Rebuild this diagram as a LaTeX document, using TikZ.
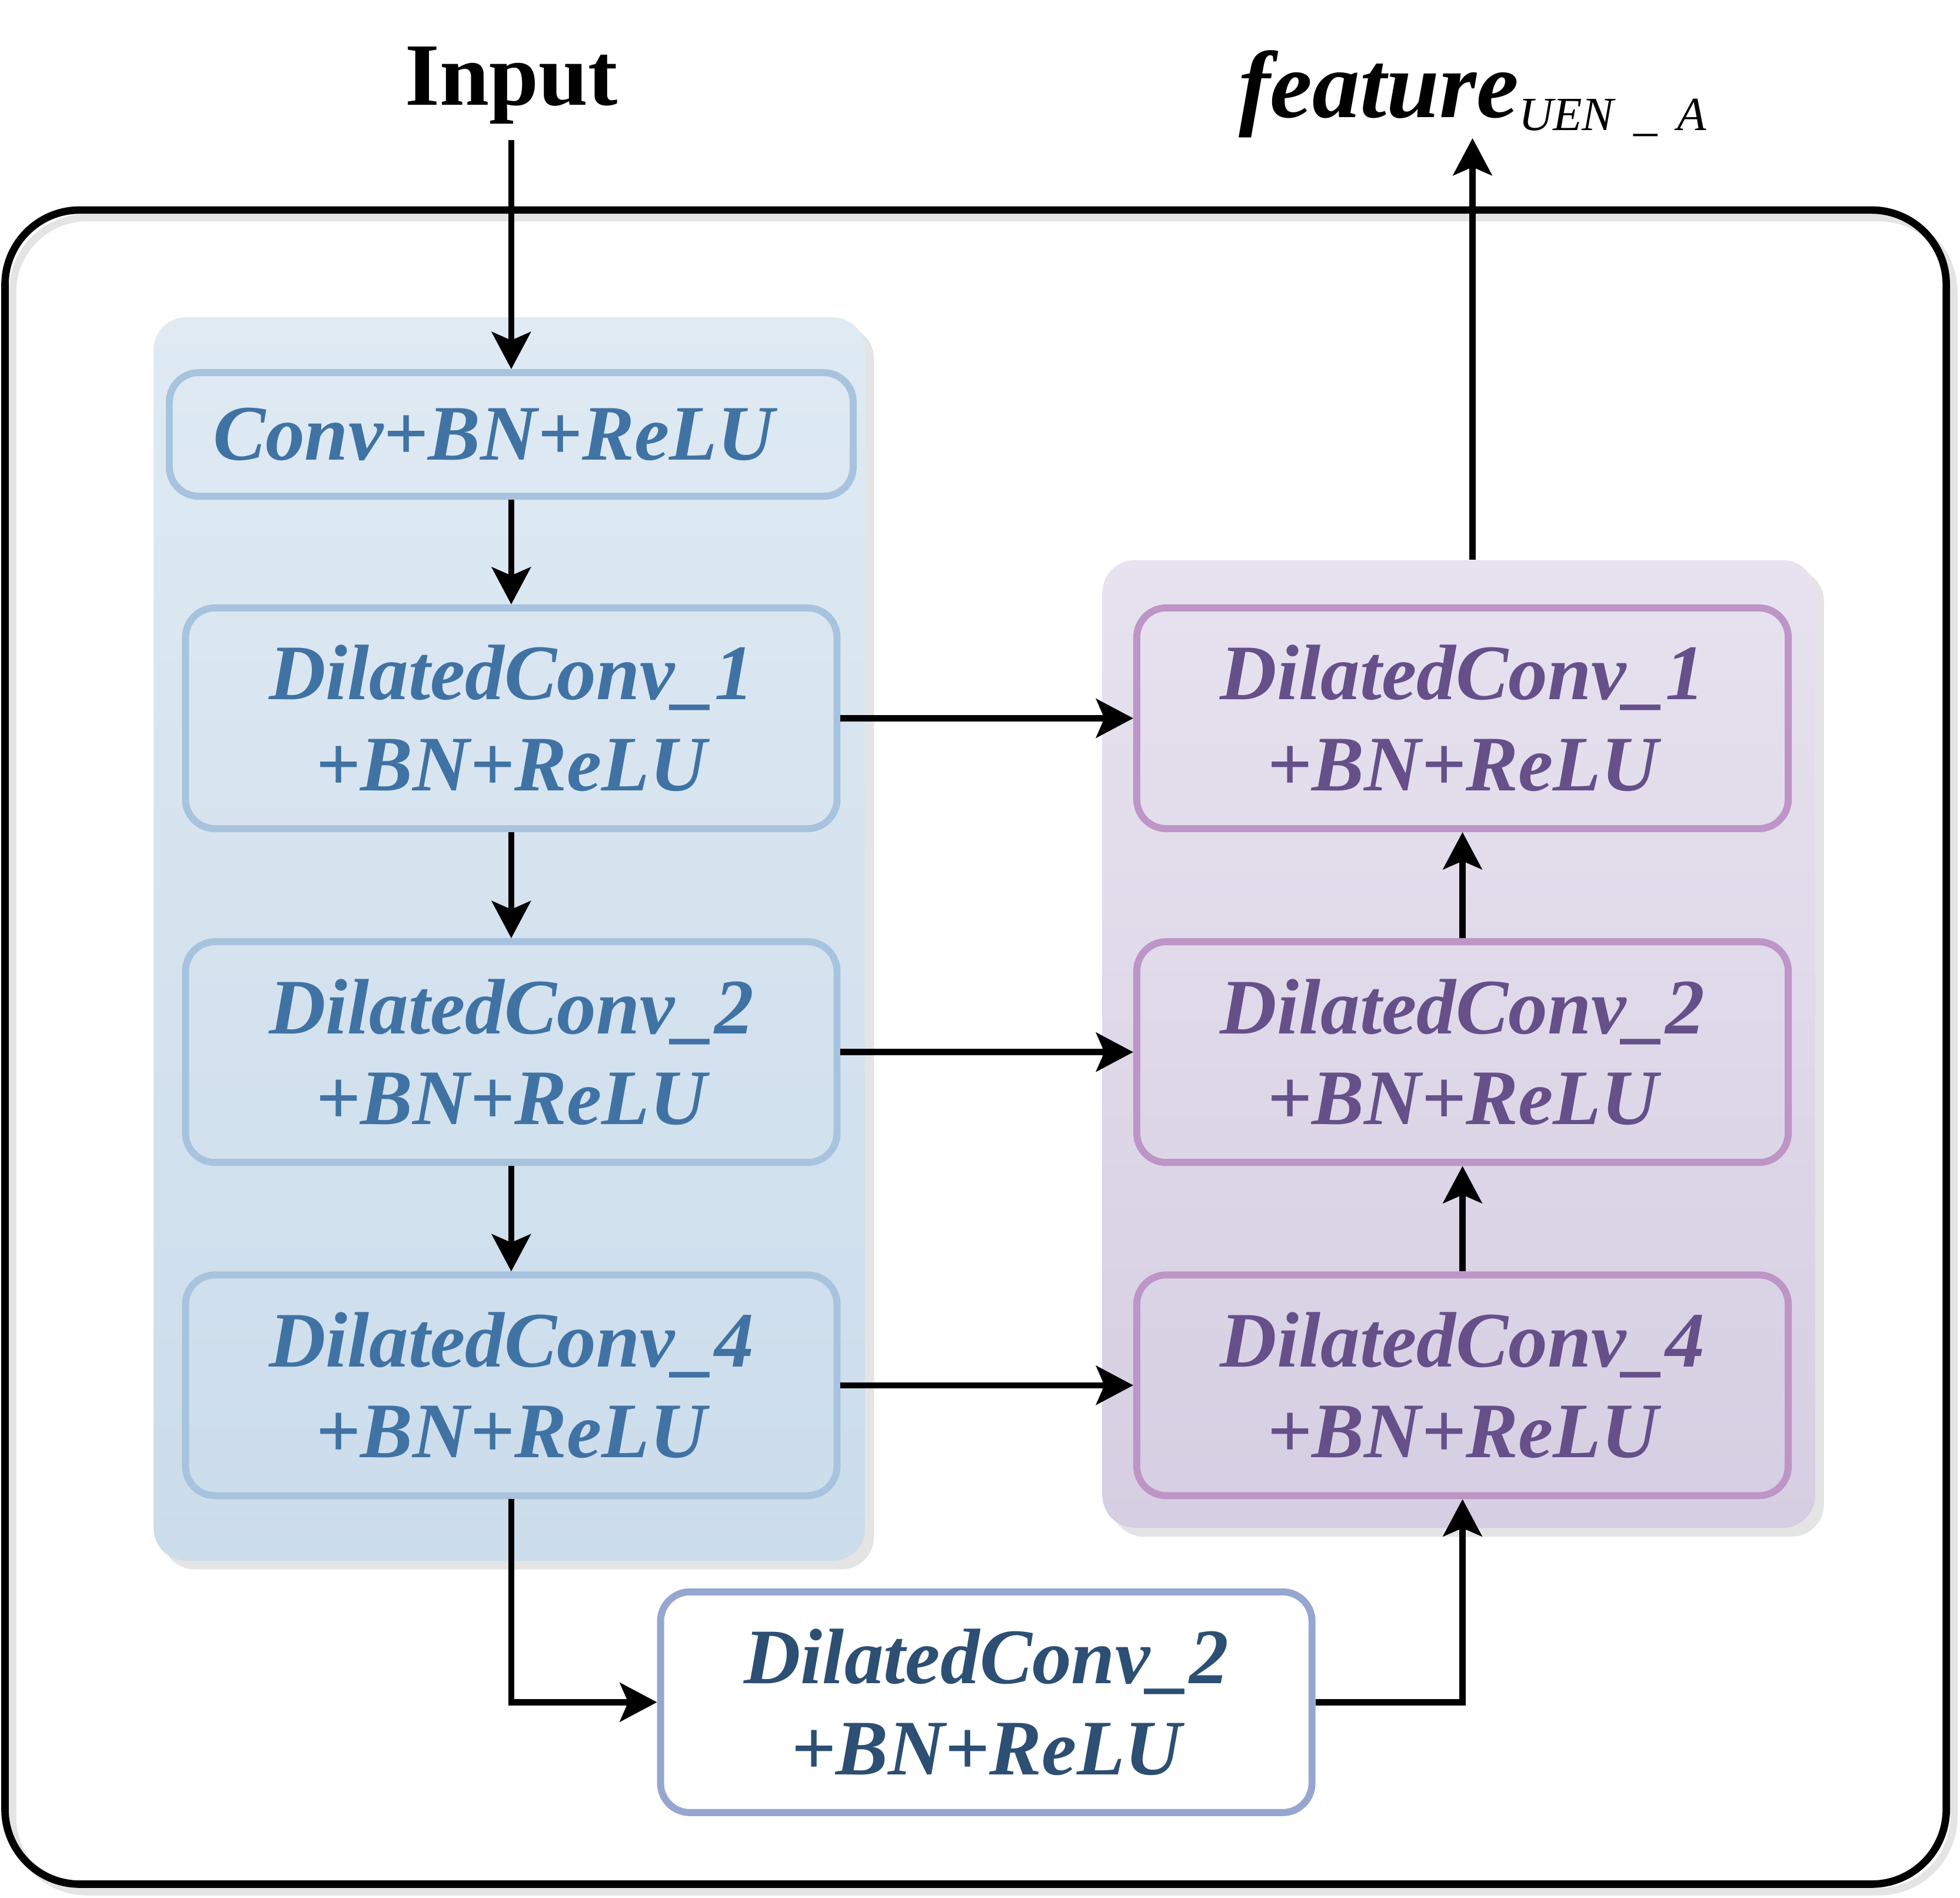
\documentclass[tikz,border=0pt]{standalone}
\usepackage{fontspec}
\setmainfont{Liberation Serif}
\usetikzlibrary{arrows.meta, positioning, shadows}

\definecolor{lfill1}{HTML}{DFEAF3}
\definecolor{lfill2}{HTML}{CBDCEB}
\definecolor{rfill1}{HTML}{E7E2EF}
\definecolor{rfill2}{HTML}{D6CEE2}
\definecolor{lline}{HTML}{A7C3DD}
\definecolor{ltext}{HTML}{4073A4}
\definecolor{rline}{HTML}{BD95C6}
\definecolor{rtext}{HTML}{65508A}
\definecolor{mline}{HTML}{96A6D0}
\definecolor{mtext}{HTML}{2C4F73}
\definecolor{shadowgray}{HTML}{E4E4E4}

\begin{document}
\begin{tikzpicture}[x=0.021244cm, y=-0.021244cm,
    panel/.style={rounded corners=0.55cm, inner sep=0pt, drop shadow={shadow xshift=0.15cm, shadow yshift=-0.15cm, fill=shadowgray, opacity=1}},
    block/.style={rounded corners=0.5cm, line width=3.4pt, inner sep=0pt, align=center, minimum width=11.07cm, minimum height=3.75cm, font=\fontsize{38}{44}\selectfont\bfseries\itshape},
    lblock/.style={block, draw=lline, text=ltext},
    rblock/.style={block, draw=rline, text=rtext},
    mblock/.style={block, draw=mline, text=mtext, fill=white},
    conn/.style={-{Stealth[length=0.63cm, width=0.66cm, inset=0.14cm]}, line width=2.95pt}
]
    \useasboundingbox (0,0) rectangle (1568,1518);
    % Outer frame
    \draw[shadowgray, line width=3.6pt, rounded corners=1.27cm] (10,174) rectangle (1563,1513);
    \draw[line width=3.6pt, rounded corners=1.27cm] (4,168) rectangle (1557,1507);
    % Panels
    \node[panel, top color=lfill1, bottom color=lfill2, minimum width=12.09cm, minimum height=21.12cm] (LP) at (407.5,751) {};
    \node[panel, top color=rfill1, bottom color=rfill2, minimum width=12.11cm, minimum height=16.44cm] (RP) at (1167,835) {};
    % Input and output
    \node[font=\fontsize{43}{43}\selectfont\bfseries, anchor=base, inner sep=0pt] (IN) at (409,84) {Input};
    \node[anchor=base, inner sep=0pt] (OUT) at (1178,94) {\fontsize{46}{46}\selectfont\bfseries\itshape feature\raisebox{-0.22cm}{\fontsize{23}{23}\selectfont\mdseries UEN \,\_\, A}};
    % Blocks
    \node[lblock, minimum width=11.62cm, minimum height=2.1cm] (C0) at (409,347.5) {Conv+BN+ReLU\hspace*{0.6cm}};
    \foreach \n/\y in {1/574.5, 2/841.5, 4/1108} {
        \node[lblock] (L\n) at (409,\y) {DilatedConv\_\n\\+BN+ReLU};
        \node[rblock] (R\n) at (1170,\y) {DilatedConv\_\n\\+BN+ReLU};
    }
    \node[mblock] (M) at (789,1361.5) {DilatedConv\_2\\+BN+ReLU};
    % Connections
    \draw[conn, shorten <=0.27cm] (IN) -- (C0);
    \draw[conn] (C0) -- (L1);
    \draw[conn] (L1) -- (L2);
    \draw[conn] (L2) -- (L4);
    \foreach \n in {1,2,4} {
        \draw[conn] (L\n) -- (R\n);
    }
    \draw[conn] (L4) |- (M);
    \draw[conn] (M) -| (R4);
    \draw[conn] (R4) -- (R2);
    \draw[conn] (R2) -- (R1);
    \draw[conn] (RP.north -| OUT.south) -- (OUT);
\end{tikzpicture}
\end{document}
